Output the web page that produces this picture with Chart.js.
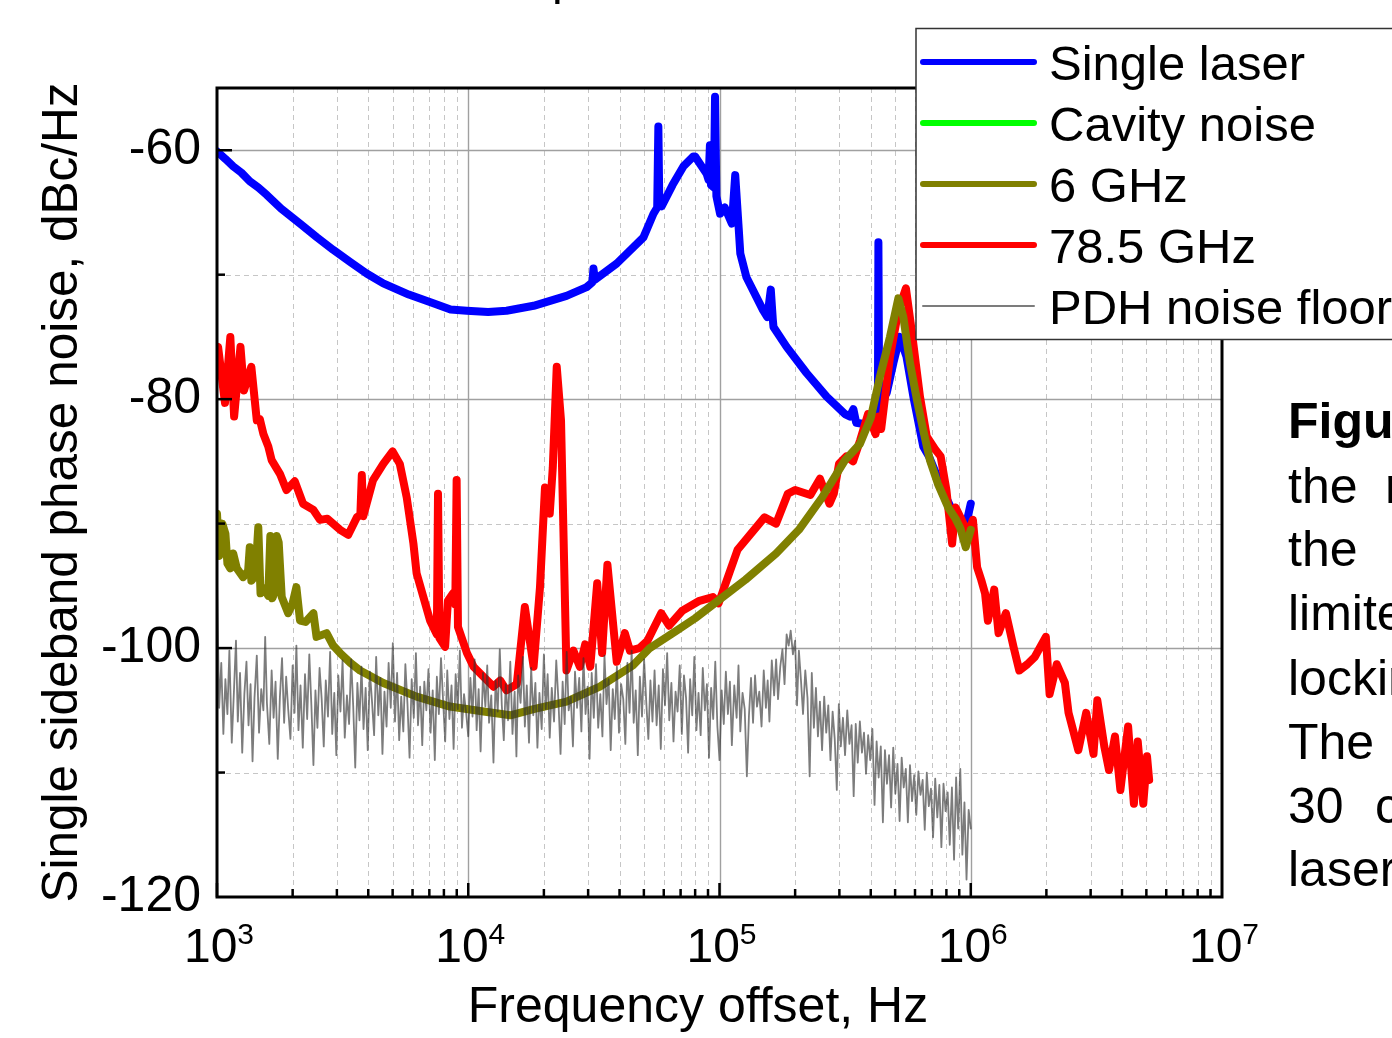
<!DOCTYPE html>
<html>
<head>
<meta charset="utf-8">
<script src="https://cdn.jsdelivr.net/npm/chart.js@4.4.1/dist/chart.umd.min.js"></script>
<style>
  html, body { margin: 0; padding: 0; background: #fff; overflow: hidden; }
  canvas { display: block; }
</style>
</head>
<body>
<canvas id="noiseChart" width="1392" height="1038"></canvas>
<script>
const seriesNames = ['Single laser', 'Cavity noise', '6 GHz', '78.5 GHz', 'PDH noise floor']
const seriesColors = ['#0000ff', '#00ff00', '#808000', '#ff0000', 'rgba(50,50,50,0.64)']

const xTickValues = [1e3, 1e4, 1e5, 1e6, 1e7]
const xTickExponents = ['3', '4', '5', '6', '7']
const yTickLabels = [-60, -80, -100, -120]

// Single laser
const singleFreq = [1000, 1080, 1160, 1250, 1350, 1460, 1580, 1800, 2140, 2500, 2900, 3400, 3940, 4590, 5800, 7260, 8500, 9860, 12000, 14200,
  18200, 24600, 29600, 31200, 31500, 31900, 39000, 49800, 54600, 56500, 57100, 57600, 58900, 65000, 71800,
  78700, 80000, 88900, 90500, 91600, 92500, 95000, 96000, 97200, 100500, 105000, 112000, 115500, 119000,
  121000, 128000, 149000, 155000, 160000, 163000, 164000, 185000, 222000, 267000, 316000, 330000, 341000,
  350000, 376000, 397000, 420000, 427000, 429000, 432000, 463000, 492000, 522000, 555000, 591000, 647000,
  682000, 785000, 880000, 936000, 970000, 1000000]
const singleLevel = [-60.1, -60.7, -61.3, -61.8, -62.5, -63.0, -63.6, -64.7, -65.9, -67.0, -68.0, -69.0, -69.9, -70.7, -71.6, -72.3, -72.8, -72.9, -73.0, -72.9,
  -72.5, -71.7, -71.0, -70.6, -69.5, -70.4, -69.1, -67.0, -65.1, -64.6, -58.1, -64.3, -64.5, -62.8, -61.3,
  -60.5, -60.5, -61.9, -62.4, -59.6, -62.8, -63.0, -55.7, -63.7, -65.1, -64.6, -65.9, -62.0, -66.0,
  -68.3, -70.2, -72.85, -73.4, -71.2, -73.6, -74.2, -75.8, -77.9, -79.8, -81.2, -81.4, -80.8,
  -81.9, -82.0, -81.9, -81.5, -81.2, -67.4, -80.5, -79.5, -77.1, -75.0, -76.6, -79.8, -83.8,
  -84.6, -87.6, -89.7, -90.3, -89.6, -88.4]

// Cavity noise (only in the legend)
const cavityFreq = []
const cavityLevel = []

// 6 GHz
const sixFreq = [1000, 1020, 1050, 1080, 1100, 1130, 1160, 1200, 1270, 1330, 1350, 1370, 1420, 1460, 1490, 1540,
  1600, 1630, 1660, 1700, 1730, 1760, 1810, 1920, 2000, 2070, 2140, 2250, 2420, 2490, 2730, 2900, 3090,
  3400, 3710, 4590, 6230, 8450, 11500, 14700, 18200, 24600, 33400, 45200, 52800, 67500, 80000, 95700,
  127000, 168000, 207000, 256000, 316000, 362000, 400000, 435000, 477000, 515000, 539000, 573000, 610000,
  647000, 688000, 740000, 813000, 870000, 910000, 955000, 1000000]
const sixLevel = [-89.2, -92.6, -90.0, -90.8, -93.2, -93.6, -92.4, -93.6, -94.3, -93.8, -91.9, -94.6, -94.2, -90.3, -95.6, -95.2,
  -95.8, -91.0, -96.0, -95.5, -91.0, -91.5, -95.9, -97.2, -96.4, -95.1, -97.8, -97.9, -97.2, -99.1, -98.8, -99.8, -100.4,
  -101.2, -101.8, -102.8, -103.9, -104.7, -105.1, -105.4, -104.9, -104.3, -103.1, -101.4, -100.0, -98.6, -97.6, -96.4,
  -94.5, -92.4, -90.5, -87.9, -84.9, -83.6, -81.5, -78.2, -75.0, -71.9, -73.4, -77.1, -80.0,
  -82.5, -84.9, -86.8, -88.7, -89.6, -90.4, -91.9, -90.5]

// 78.5 GHz
const mmFreq = [1000, 1010, 1076, 1130, 1170, 1240, 1280, 1370, 1440, 1480, 1530, 1600, 1650, 1780, 1890, 2040, 2200,
  2420, 2570, 2750, 3090, 3330, 3600, 3720, 3770, 3820, 4180, 4590, 5000, 5340, 5690, 6050, 6230, 6630, 7050,
  7500, 7580, 7680, 8090, 8300, 8700, 8880, 8990, 9100, 9880, 10500, 11500, 12600, 13400, 14200, 15600, 16800,
  18200, 19300, 20200, 21100, 21700, 22500, 23400, 24600, 26200, 27800, 29200, 30600, 32600, 34100, 35800,
  39000, 42000, 44000, 48000, 51700, 58600, 63000, 71100, 83200, 94100, 99200, 118000, 151000, 168000, 187000,
  200000, 230000, 251000, 274000, 285000, 299000, 320000, 340000, 363000, 390000, 418000, 430000, 440000,
  477000, 515000, 552000, 582000, 628000, 668000, 720000, 759000, 800000, 843000, 870000, 920000, 975000,
  1020000, 1060000, 1100000, 1140000, 1170000, 1240000, 1290000, 1380000, 1480000, 1560000, 1680000, 1800000,
  1990000, 2060000, 2200000, 2370000, 2450000, 2680000, 2880000, 3080000, 3190000, 3400000, 3550000, 3750000,
  3940000, 4230000, 4460000, 4620000, 4860000, 5030000, 5130000]
const mmLevel = [-76.0, -75.8, -80.3, -75.0, -81.4, -75.8, -79.3, -77.4, -81.7, -81.6, -82.8, -83.8, -84.9, -86.0, -87.3, -86.6, -88.4,
  -88.9, -89.7, -89.6, -90.5, -90.9, -89.5, -89.3, -86.1, -89.4, -86.5, -85.2, -84.2, -85.2, -87.9, -91.6, -94.0, -95.9, -97.8,
  -98.9, -87.6, -99.2, -99.9, -96.2, -95.6, -96.5, -86.5, -98.3, -100.4, -101.5, -102.3, -103.1, -102.6, -103.4, -102.9, -96.7,
  -101.5, -95.1, -87.1, -89.2, -85.5, -77.4, -81.7, -101.8, -100.2, -101.5, -99.7, -101.5, -94.8, -100.4, -93.3,
  -101.1, -98.8, -100.2, -100.0, -99.4, -97.2, -98.2, -97.0, -96.2, -95.9, -96.4, -92.1, -89.5, -90.0, -87.6,
  -87.3, -87.7, -86.4, -88.4, -87.6, -85.2, -84.6, -85.0, -83.3, -81.2, -82.8, -81.4, -82.4,
  -76.6, -72.9, -71.1, -74.5, -79.8, -83.0, -84.0, -84.6, -87.3, -91.6, -88.7, -89.7, -90.8,
  -89.7, -93.5, -94.5, -95.6, -97.8, -95.3, -98.8, -97.2, -99.9, -101.8, -101.3, -100.7,
  -99.1, -103.7, -101.3, -102.8, -105.2, -108.2, -105.2, -108.5, -104.2, -107.9, -109.8, -107.1,
  -111.4, -106.3, -112.5, -107.5, -112.5, -108.7, -110.6]

// PDH noise floor
const pdhFreq = [1000, 1020, 1040, 1060, 1080, 1100, 1120, 1145, 1170, 1190, 1210, 1235, 1260, 1285, 1310, 1335, 1360, 1385,
  1410, 1440, 1470, 1500, 1530, 1555, 1580, 1615, 1650, 1680, 1710, 1745, 1780, 1815, 1850, 1885, 1920, 1960, 2000,
  2035, 2070, 2110, 2150, 2195, 2240, 2285, 2330, 2375, 2420, 2465, 2510, 2560, 2610, 2660, 2710, 2765, 2820, 2875,
  2930, 2985, 3040, 3100, 3160, 3225, 3290, 3355, 3420, 3485, 3550, 3620, 3690, 3760, 3830, 3905, 3980, 4060, 4140,
  4220, 4300, 4385, 4470, 4555, 4640, 4730, 4820, 4915, 5010, 5110, 5210, 5310, 5410, 5515, 5620, 5730, 5840, 5955,
  6070, 6190, 6310, 6435, 6560, 6685, 6810, 6945, 7080, 7220, 7360, 7500, 7640, 7790, 7940, 8095, 8250, 8415, 8580,
  8745, 8910, 9085, 9260, 9440, 9620, 9810,
  10000, 10200, 10400, 10600, 10800, 11000, 11200, 11450, 11700, 11900, 12100, 12350, 12600, 12850, 13100, 13350,
  13600, 13850, 14100, 14400, 14700, 15000, 15300, 15550, 15800, 16150, 16500, 16800, 17100, 17450, 17800, 18150,
  18500, 18850, 19200, 19600, 20000, 20350, 20700, 21100, 21500, 21950, 22400, 22850, 23300, 23750, 24200, 24650,
  25100, 25600, 26100, 26600, 27100, 27650, 28200, 28750, 29300, 29850, 30400, 31000, 31600, 32250, 32900, 33550,
  34200, 34850, 35500, 36200, 36900, 37600, 38300, 39050, 39800, 40600, 41400, 42200, 43000, 43850, 44700, 45550,
  46400, 47300, 48200, 49150, 50100, 51100, 52100, 53100, 54100, 55150, 56200, 57300, 58400, 59550, 60700, 61900,
  63100, 64350, 65600, 66850, 68100, 69450, 70800, 72200, 73600, 75000, 76400, 77900, 79400, 80950, 82500, 84150,
  85800, 87450, 89100, 90850, 92600, 94400, 96200, 98100,
  100000, 102000, 104000, 106000, 108000, 110000, 112000, 114500, 117000, 119000, 121000, 123500, 126000, 128500,
  131000, 133500, 136000, 138500, 141000, 144000, 147000, 150000, 153000, 155500, 158000, 161500, 165000, 168000,
  171000, 174500, 178000, 181500, 185000, 188500, 192000, 196000, 200000, 203500, 207000, 211000, 215000, 219500,
  224000, 228500, 233000, 237500, 242000, 246500, 251000, 256000, 261000, 266000, 271000, 276500, 282000, 287500,
  293000, 298500, 304000, 310000, 316000, 322500, 329000, 335500, 342000, 348500, 355000, 362000, 369000, 376000,
  383000, 390500, 398000, 406000, 414000, 422000, 430000, 438500, 447000, 455500, 464000, 473000, 482000, 491500,
  501000, 511000, 521000, 531000, 541000, 551500, 562000, 573000, 584000, 595500, 607000, 619000, 631000, 643500,
  656000, 668500, 681000, 694500, 708000, 722000, 736000, 750000, 764000, 779000, 794000, 809500, 825000, 841500,
  858000, 874500, 891000, 908500, 926000, 944000, 962000, 981000, 1000000]
const pdhLevel = [-94.5, -104.8, -101.2, -106.9, -102.5, -105.3, -100.2, -107.6, -103.1, -99.4,
  -105.9, -102.0, -108.4, -103.7, -101.1, -106.2, -102.9, -109.1, -104.0, -100.6,
  -106.8, -103.3, -105.0, -99.1, -104.4, -107.7, -101.8, -105.6, -102.7, -108.9,
  -103.9, -100.8, -106.0, -102.3, -104.9, -107.3, -101.4, -105.2, -99.8, -106.6,
  -103.0, -108.0, -102.1, -105.7, -100.5, -104.6, -109.4, -103.4, -106.4, -101.6,
  -104.1, -107.9, -102.6, -105.5, -100.3, -106.9, -103.6, -108.6, -102.2, -105.1,
  -101.0, -107.2, -103.8, -106.1, -100.9, -104.7, -109.6, -102.8, -105.8, -101.5,
  -106.5, -103.2, -108.2, -101.9, -104.3, -107.0, -100.7, -105.4, -102.4, -108.5,
  -103.5, -106.3, -101.2, -104.8, -99.6, -105.9, -102.0, -107.4, -103.9, -106.7,
  -101.3, -104.5, -108.8, -102.5, -105.6, -100.4, -106.2, -103.1, -107.8, -102.7,
  -105.0, -101.7, -106.8, -103.4, -109.0, -102.3, -105.3, -100.8, -104.2, -107.5,
  -101.8, -105.7, -103.0, -108.1, -102.1, -104.9, -100.2, -106.4, -103.7, -105.2,
  -107.1, -102.4, -105.5, -100.9, -106.6, -103.3, -108.3, -102.0, -104.7, -101.4,
  -106.0, -103.8, -109.2, -102.6, -105.1, -100.1, -104.6, -107.4, -102.9, -105.8,
  -101.1, -106.9, -103.5, -108.7, -102.2, -104.4, -100.7, -106.3, -103.0, -107.6,
  -101.6, -105.4, -102.8, -108.0, -103.6, -106.5, -100.5, -104.9, -102.1, -107.2,
  -103.2, -105.9, -101.0, -104.2, -108.5, -102.7, -106.1, -100.3, -105.0, -103.9,
  -107.9, -101.9, -104.8, -102.4, -106.7, -100.8, -105.3, -103.1, -108.9, -102.0,
  -105.6, -101.3, -106.4, -103.7, -107.1, -100.6, -104.5, -102.5, -108.2, -103.3,
  -105.7, -101.5, -106.8, -102.9, -104.1, -107.7, -101.2, -105.2, -100.2, -106.0,
  -103.4, -108.6, -102.3, -105.5, -100.9, -104.3, -107.3, -102.6, -105.9, -101.8,
  -106.2, -103.0, -108.1, -101.7, -104.6, -100.4, -105.8, -102.8, -107.5, -103.5,
  -105.1, -101.4, -106.9, -102.2, -104.0, -108.4, -102.5, -105.4, -100.7, -106.6,
  -103.6, -107.0, -101.6, -105.0, -102.9, -108.8, -103.2, -105.7, -101.1, -106.3,
  -109.0, -103.4, -106.1, -101.9, -105.3, -102.7, -107.8, -103.0, -105.6, -101.4,
  -106.7, -103.6, -104.9, -110.3, -105.4, -102.4, -106.0, -102.2, -104.7, -103.5,
  -106.3, -101.8, -104.8, -102.6, -105.9, -101.0, -103.8, -100.9, -104.1, -101.5,
  -100.1, -102.9, -98.9, -99.8, -98.6, -100.5, -99.4, -104.6, -100.2, -102.6,
  -105.3, -101.8, -104.0, -110.3, -102.0, -106.4, -103.2, -107.1, -104.3, -108.2,
  -103.9, -106.8, -104.6, -109.0, -105.1, -107.3, -111.4, -104.5, -107.9, -105.6,
  -108.6, -105.0, -107.7, -106.2, -111.9, -106.1, -109.2, -105.9, -108.4, -106.8,
  -110.1, -107.0, -109.0, -106.5, -112.6, -107.5, -110.4, -107.9, -114.0, -108.2,
  -110.9, -108.6, -112.8, -108.0, -111.7, -109.3, -113.9, -108.8, -111.2, -109.7,
  -114.0, -109.4, -112.3, -110.2, -113.4, -109.9, -111.8, -110.6, -114.6, -110.0,
  -112.7, -111.3, -115.2, -110.5, -113.6, -111.0, -116.0, -110.9, -113.1, -111.6,
  -115.8, -111.2, -117.0, -110.4, -114.5, -109.7, -116.6, -112.4, -118.6, -113.0,
  -114.5]

const toPoints = (xs, ys) => xs.map((x, i) => ({ x: x, y: ys[i] }))

const font = '"Liberation Sans", Arial, sans-serif'
Chart.defaults.font.family = font
Chart.defaults.color = '#000'

const makeSet = (i, xs, ys, width, order) => ({
  label: seriesNames[i],
  data: toPoints(xs, ys),
  borderColor: seriesColors[i],
  backgroundColor: seriesColors[i],
  borderWidth: width,
  pointRadius: 0,
  tension: 0,
  fill: false,
  borderJoinStyle: 'round',
  borderCapStyle: 'round',
  order: order
})

const line = (ctx, x1, y1, x2, y2) => {
  ctx.beginPath()
  ctx.moveTo(x1, y1)
  ctx.lineTo(x2, y2)
  ctx.stroke()
}

// grid, frame, ticks, legend and the page text around the plot
const decorations = {
  id: 'decorations',
  beforeDatasetsDraw(chart) {
    const { ctx, chartArea: a, scales: { x, y } } = chart
    ctx.save()
    ctx.lineWidth = 1
    ctx.strokeStyle = '#c6c6c6'
    ctx.setLineDash([5, 4])
    for (let d = 1e3; d < 1e7; d *= 10) {
      for (let m = 2; m <= 9; m++) {
        const px = Math.round(x.getPixelForValue(d * m)) + 0.5
        line(ctx, px, a.top, px, a.bottom)
      }
    }
    ;[-70, -90, -110].forEach(v => {
      const py = Math.round(y.getPixelForValue(v)) + 0.5
      line(ctx, a.left, py, a.right, py)
    })
    ctx.setLineDash([])
    ctx.strokeStyle = '#a0a0a0'
    ctx.lineWidth = 1.4
    ;[1e4, 1e5, 1e6].forEach(v => {
      const px = Math.round(x.getPixelForValue(v)) + 0.5
      line(ctx, px, a.top, px, a.bottom)
    })
    ;[-60, -80, -100].forEach(v => {
      const py = Math.round(y.getPixelForValue(v)) + 0.5
      line(ctx, a.left, py, a.right, py)
    })
    ctx.restore()
  },
  afterDatasetsDraw(chart) {
    const { ctx, chartArea: a, scales: { x, y } } = chart
    ctx.save()
    ctx.strokeStyle = '#000'
    ctx.lineWidth = 2.5
    for (let d = 1e3; d < 1e7; d *= 10) {
      for (let m = 1; m <= 9; m++) {
        const px = x.getPixelForValue(d * m)
        line(ctx, px, a.bottom, px, a.bottom - (m === 1 ? 14 : 8))
      }
    }
    for (let v = -110; v <= -60; v += 10) {
      const py = y.getPixelForValue(v)
      line(ctx, a.left, py, a.left + (v % 20 === 0 ? 15 : 8), py)
    }
    ctx.lineWidth = 3
    ctx.strokeRect(a.left, a.top, a.right - a.left, a.bottom - a.top)

    // x tick labels 10^n
    ctx.fillStyle = '#000'
    ctx.textBaseline = 'alphabetic'
    ctx.textAlign = 'left'
    xTickValues.forEach((v, i) => {
      const px = x.getPixelForValue(v)
      ctx.font = '48px ' + font
      const bw = ctx.measureText('10').width
      ctx.font = '30px ' + font
      const ew = ctx.measureText(xTickExponents[i]).width
      const left = px - (bw + ew) / 2 + 2
      ctx.font = '48px ' + font
      ctx.fillText('10', left, 962)
      ctx.font = '30px ' + font
      ctx.fillText(xTickExponents[i], left + bw, 944)
    })

    // x axis title
    ctx.font = '50px ' + font
    ctx.textAlign = 'center'
    ctx.textBaseline = 'middle'
    ctx.fillText('Frequency offset, Hz', 698, 1008)
    ctx.restore()
  },
  afterDraw(chart) {
    const { ctx } = chart
    ctx.save()
    // legend
    ctx.fillStyle = '#fff'
    ctx.fillRect(916, 28, 500, 312)
    ctx.strokeStyle = '#333'
    ctx.lineWidth = 1.5
    ctx.strokeRect(916, 28.5, 500, 311)
    chart.data.datasets.forEach((ds, i) => {
      const cy = 62 + i * 61
      ctx.strokeStyle = ds.borderColor
      ctx.lineWidth = i === 4 ? 2 : 6
      ctx.lineCap = 'round'
      line(ctx, 923, cy, 1034, cy)
      ctx.fillStyle = '#000'
      ctx.font = '49px ' + font
      ctx.textAlign = 'left'
      ctx.textBaseline = 'alphabetic'
      ctx.fillText(ds.label, 1049, cy + 18)
    })

    // caption text beside the chart (cut by the page edge)
    ctx.fillStyle = '#000'
    ctx.textAlign = 'left'
    ctx.textBaseline = 'alphabetic'
    ctx.font = 'bold 50px ' + font
    ctx.fillText('Figure', 1288, 438)
    ctx.font = '50px ' + font
    const words = [['the', 1288, 503], ['r', 1385, 503], ['the', 1288, 566], ['limited', 1288, 630],
      ['locking', 1288, 695], ['The', 1288, 759], ['30', 1288, 823], ['c', 1375, 823], ['laser', 1288, 886]]
    words.forEach(([w, wx, wy]) => ctx.fillText(w, wx, wy))
    ctx.font = '48px ' + font
    ctx.fillText('p', 552, -6)
    ctx.restore()
  }
}

new Chart(document.getElementById('noiseChart'), {
  type: 'line',
  data: {
    datasets: [
      makeSet(0, singleFreq, singleLevel, 8, 4),
      makeSet(1, cavityFreq, cavityLevel, 8, 5),
      makeSet(2, sixFreq, sixLevel, 8, 1),
      makeSet(3, mmFreq, mmLevel, 8, 3),
      makeSet(4, pdhFreq, pdhLevel, 1.8, 0)
    ]
  },
  options: {
    responsive: false,
    devicePixelRatio: 1,
    animation: false,
    events: [],
    layout: { padding: { left: 0, top: 88, right: 170, bottom: 0 } },
    plugins: { legend: { display: false }, tooltip: { enabled: false } },
    scales: {
      x: {
        type: 'logarithmic',
        position: 'bottom',
        min: 1e3,
        max: 1e7,
        grid: { display: false, drawTicks: false },
        border: { display: false },
        ticks: { display: false },
        afterFit: s => { s.height = 141 }
      },
      y: {
        type: 'linear',
        min: -120,
        max: -55,
        grid: { display: false, drawTicks: false },
        border: { display: false },
        ticks: {
          stepSize: 10,
          autoSkip: false,
          padding: 16,
          font: { size: 50 },
          color: '#000',
          callback: v => yTickLabels.includes(v) ? String(v) : ''
        },
        title: {
          display: true,
          text: 'Single sideband phase noise, dBc/Hz',
          font: { size: 49.5, lineHeight: 1 },
          color: '#000',
          padding: { top: 39, bottom: 0 }
        },
        afterFit: s => { s.width = 217 }
      }
    }
  },
  plugins: [decorations]
})
</script>
</body>
</html>
